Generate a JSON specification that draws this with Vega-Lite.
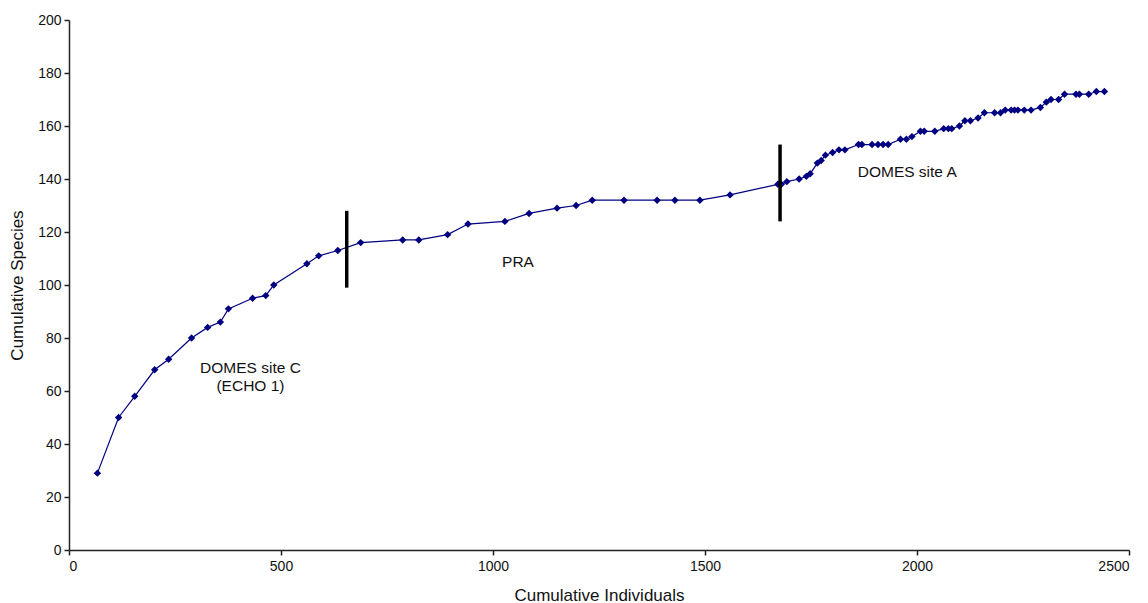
{
  "$schema": "https://vega.github.io/schema/vega-lite/v6.json",
  "width": 1060,
  "height": 530,
  "autosize": {"type": "none"},
  "padding": {"left": 69, "top": 20, "right": 19, "bottom": 53},
  "background": "white",
  "config": {
    "view": {"stroke": null},
    "font": "Liberation Sans",
    "axis": {
      "grid": false,
      "domainColor": "#222222",
      "domainWidth": 1.5,
      "tickColor": "#222222",
      "tickWidth": 1.5,
      "tickSize": 5,
      "labelColor": "#111111",
      "labelFont": "Liberation Sans",
      "labelFontSize": 14,
      "titleFont": "Liberation Sans",
      "titleFontSize": 17,
      "titleFontWeight": "normal",
      "titleColor": "#111111"
    }
  },
  "datasets": {
    "curve": [
      {"individuals": 67, "species": 29},
      {"individuals": 117, "species": 50},
      {"individuals": 155, "species": 58},
      {"individuals": 202, "species": 68},
      {"individuals": 235, "species": 72},
      {"individuals": 289, "species": 80},
      {"individuals": 327, "species": 84},
      {"individuals": 357, "species": 86},
      {"individuals": 376, "species": 91},
      {"individuals": 433, "species": 95},
      {"individuals": 464, "species": 96},
      {"individuals": 483, "species": 100},
      {"individuals": 561, "species": 108},
      {"individuals": 589, "species": 111},
      {"individuals": 634, "species": 113},
      {"individuals": 688, "species": 116},
      {"individuals": 787, "species": 117},
      {"individuals": 825, "species": 117},
      {"individuals": 893, "species": 119},
      {"individuals": 941, "species": 123},
      {"individuals": 1028, "species": 124},
      {"individuals": 1085, "species": 127},
      {"individuals": 1151, "species": 129},
      {"individuals": 1196, "species": 130},
      {"individuals": 1234, "species": 132},
      {"individuals": 1309, "species": 132},
      {"individuals": 1387, "species": 132},
      {"individuals": 1429, "species": 132},
      {"individuals": 1488, "species": 132},
      {"individuals": 1559, "species": 134},
      {"individuals": 1672, "species": 138},
      {"individuals": 1680, "species": 138},
      {"individuals": 1693, "species": 139},
      {"individuals": 1722, "species": 140},
      {"individuals": 1739, "species": 141},
      {"individuals": 1748, "species": 142},
      {"individuals": 1765, "species": 146},
      {"individuals": 1774, "species": 147},
      {"individuals": 1784, "species": 149},
      {"individuals": 1801, "species": 150},
      {"individuals": 1816, "species": 151},
      {"individuals": 1830, "species": 151},
      {"individuals": 1862, "species": 153},
      {"individuals": 1870, "species": 153},
      {"individuals": 1894, "species": 153},
      {"individuals": 1908, "species": 153},
      {"individuals": 1920, "species": 153},
      {"individuals": 1932, "species": 153},
      {"individuals": 1961, "species": 155},
      {"individuals": 1975, "species": 155},
      {"individuals": 1988, "species": 156},
      {"individuals": 2008, "species": 158},
      {"individuals": 2017, "species": 158},
      {"individuals": 2042, "species": 158},
      {"individuals": 2063, "species": 159},
      {"individuals": 2074, "species": 159},
      {"individuals": 2082, "species": 159},
      {"individuals": 2100, "species": 160},
      {"individuals": 2113, "species": 162},
      {"individuals": 2126, "species": 162},
      {"individuals": 2144, "species": 163},
      {"individuals": 2159, "species": 165},
      {"individuals": 2183, "species": 165},
      {"individuals": 2197, "species": 165},
      {"individuals": 2208, "species": 166},
      {"individuals": 2222, "species": 166},
      {"individuals": 2230, "species": 166},
      {"individuals": 2238, "species": 166},
      {"individuals": 2253, "species": 166},
      {"individuals": 2269, "species": 166},
      {"individuals": 2291, "species": 167},
      {"individuals": 2305, "species": 169},
      {"individuals": 2316, "species": 170},
      {"individuals": 2334, "species": 170},
      {"individuals": 2348, "species": 172},
      {"individuals": 2375, "species": 172},
      {"individuals": 2383, "species": 172},
      {"individuals": 2405, "species": 172},
      {"individuals": 2423, "species": 173},
      {"individuals": 2442, "species": 173}
    ],
    "dividers": [
      {"x": 655, "y1": 99, "y2": 128},
      {"x": 1677, "y1": 124, "y2": 153}
    ],
    "labels": [
      {"x": 428, "y": 68.5, "text": "DOMES site C"},
      {"x": 428, "y": 62, "text": "(ECHO 1)"},
      {"x": 1059, "y": 108.5, "text": "PRA"},
      {"x": 1977, "y": 142.5, "text": "DOMES site A"}
    ]
  },
  "layer": [
    {
      "data": {"name": "curve"},
      "mark": {"type": "line", "color": "#000080", "strokeWidth": 1.2},
      "encoding": {
        "x": {
          "field": "individuals", "type": "quantitative",
          "scale": {"domain": [0, 2500], "nice": false},
          "axis": {"values": [0, 500, 1000, 1500, 2000, 2500], "format": "d", "title": "Cumulative Individuals", "titlePadding": 14, "labelPadding": 4}
        },
        "y": {
          "field": "species", "type": "quantitative",
          "scale": {"domain": [0, 200], "nice": false},
          "axis": {"values": [0, 20, 40, 60, 80, 100, 120, 140, 160, 180, 200], "format": "d", "title": "Cumulative Species", "titlePadding": 11, "labelPadding": 3}
        }
      }
    },
    {
      "data": {"name": "curve"},
      "mark": {"type": "point", "shape": "diamond", "filled": true, "color": "#000080", "opacity": 1, "size": 55},
      "encoding": {
        "x": {"field": "individuals", "type": "quantitative"},
        "y": {"field": "species", "type": "quantitative"}
      }
    },
    {
      "data": {"name": "dividers"},
      "mark": {"type": "rule", "color": "black", "strokeWidth": 3.5},
      "encoding": {
        "x": {"field": "x", "type": "quantitative"},
        "y": {"field": "y1", "type": "quantitative"},
        "y2": {"field": "y2"}
      }
    },
    {
      "data": {"name": "labels"},
      "mark": {"type": "text", "font": "Liberation Sans", "fontSize": 15.5, "color": "#111111", "align": "center", "baseline": "middle"},
      "encoding": {
        "x": {"field": "x", "type": "quantitative"},
        "y": {"field": "y", "type": "quantitative"},
        "text": {"field": "text"}
      }
    }
  ]
}
